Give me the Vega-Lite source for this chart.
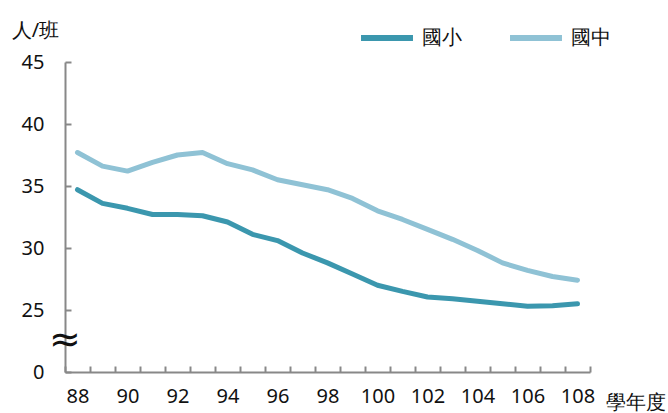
{
  "$schema": "https://vega.github.io/schema/vega-lite/v6.json",
  "width": 525,
  "height": 310,
  "autosize": "none",
  "padding": {"left": 65, "top": 62, "right": 78, "bottom": 41},
  "config": {
    "font": "Noto Sans",
    "view": {"stroke": null},
    "axis": {
      "grid": false,
      "domainColor": "#888888",
      "tickColor": "#888888",
      "domainWidth": 2,
      "tickWidth": 2,
      "labelColor": "#111111",
      "labelFontSize": 20,
      "titleFontSize": 20,
      "titleFontWeight": "normal",
      "titleColor": "#111111"
    }
  },
  "data": {
    "values": [
      {"year": 88, "type": "國小", "value": 34.7},
      {"year": 89, "type": "國小", "value": 33.6},
      {"year": 90, "type": "國小", "value": 33.2},
      {"year": 91, "type": "國小", "value": 32.7},
      {"year": 92, "type": "國小", "value": 32.7},
      {"year": 93, "type": "國小", "value": 32.6},
      {"year": 94, "type": "國小", "value": 32.1},
      {"year": 95, "type": "國小", "value": 31.1},
      {"year": 96, "type": "國小", "value": 30.6},
      {"year": 97, "type": "國小", "value": 29.6},
      {"year": 98, "type": "國小", "value": 28.8},
      {"year": 99, "type": "國小", "value": 27.9},
      {"year": 100, "type": "國小", "value": 27.0},
      {"year": 101, "type": "國小", "value": 26.5},
      {"year": 102, "type": "國小", "value": 26.05},
      {"year": 103, "type": "國小", "value": 25.9},
      {"year": 104, "type": "國小", "value": 25.7},
      {"year": 105, "type": "國小", "value": 25.5},
      {"year": 106, "type": "國小", "value": 25.3},
      {"year": 107, "type": "國小", "value": 25.35},
      {"year": 108, "type": "國小", "value": 25.5},
      {"year": 88, "type": "國中", "value": 37.7},
      {"year": 89, "type": "國中", "value": 36.6},
      {"year": 90, "type": "國中", "value": 36.2},
      {"year": 91, "type": "國中", "value": 36.9},
      {"year": 92, "type": "國中", "value": 37.5},
      {"year": 93, "type": "國中", "value": 37.7},
      {"year": 94, "type": "國中", "value": 36.8},
      {"year": 95, "type": "國中", "value": 36.3},
      {"year": 96, "type": "國中", "value": 35.5},
      {"year": 97, "type": "國中", "value": 35.1},
      {"year": 98, "type": "國中", "value": 34.7},
      {"year": 99, "type": "國中", "value": 34.0},
      {"year": 100, "type": "國中", "value": 33.0},
      {"year": 101, "type": "國中", "value": 32.3},
      {"year": 102, "type": "國中", "value": 31.5},
      {"year": 103, "type": "國中", "value": 30.7},
      {"year": 104, "type": "國中", "value": 29.8},
      {"year": 105, "type": "國中", "value": 28.8},
      {"year": 106, "type": "國中", "value": 28.2},
      {"year": 107, "type": "國中", "value": 27.7},
      {"year": 108, "type": "國中", "value": 27.4}
    ]
  },
  "layer": [
    {
      "mark": {"type": "line", "strokeWidth": 5, "strokeCap": "round", "strokeJoin": "round"},
      "encoding": {
        "x": {
          "field": "year",
          "type": "ordinal",
          "scale": {"type": "band", "paddingInner": 0, "paddingOuter": 0},
          "axis": {
            "labelAngle": 0,
            "tickBand": "extent",
            "tickSize": -6,
            "labelPadding": 20,
            "labelExpr": "datum.value % 2 == 0 ? datum.value : ''",
            "title": "學年度",
            "titleAngle": 0,
            "titleX": 570,
            "titleY": 30,
            "titleAlign": "center",
            "titleBaseline": "middle"
          }
        },
        "y": {
          "field": "value",
          "type": "quantitative",
          "scale": {"domain": [20, 45], "nice": false, "zero": false},
          "axis": {
            "values": [20, 25, 30, 35, 40, 45],
            "labelExpr": "datum.value == 20 ? '0' : datum.value",
            "tickSize": -6,
            "labelPadding": 27,
            "title": "人/班",
            "titleAngle": 0,
            "titleX": -30,
            "titleY": -32,
            "titleAlign": "center",
            "titleBaseline": "middle"
          }
        },
        "color": {
          "field": "type",
          "type": "nominal",
          "scale": {"domain": ["國小", "國中"], "range": ["#3b97ae", "#8fc2d5"]},
          "legend": {
            "title": null,
            "orient": "none",
            "direction": "horizontal",
            "legendX": 293,
            "legendY": -53,
            "symbolType": "stroke",
            "symbolSize": 2700,
            "symbolStrokeWidth": 6,
            "labelFontSize": 20,
            "labelColor": "#111111",
            "labelOffset": 6,
            "columnPadding": 36
          }
        }
      }
    },
    {
      "data": {"values": [{"year": 88, "value": 22.5, "sym": "≈"}]},
      "mark": {"type": "text", "fontSize": 38, "dx": -12.5, "color": "#111111", "font": "DejaVu Sans"},
      "encoding": {
        "x": {"field": "year", "type": "ordinal"},
        "y": {"field": "value", "type": "quantitative"},
        "text": {"field": "sym"}
      }
    }
  ]
}
